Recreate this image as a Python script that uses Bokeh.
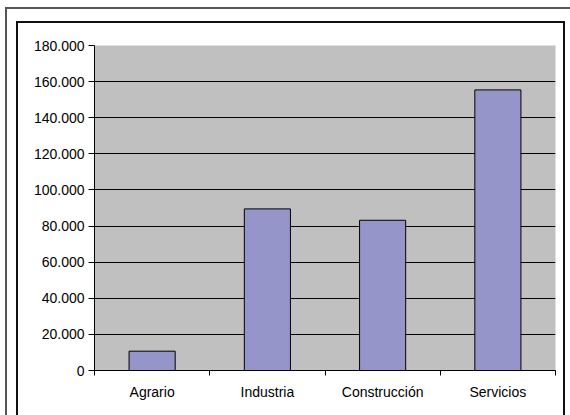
from bokeh.plotting import figure
from bokeh.models import FixedTicker, Range1d, CustomJSTickFormatter, LinearAxis
from bokeh.embed import file_html
from bokeh.resources import INLINE

categories = ["Agrario", "Industria", "Construcción", "Servicios"]
values = [10700, 89500, 83200, 155400]
y_ticks = [0, 20000, 40000, 60000, 80000, 100000, 120000, 140000, 160000, 180000]
y_tick_labels = ["0", "20.000", "40.000", "60.000", "80.000", "100.000",
                 "120.000", "140.000", "160.000", "180.000"]

FONT = "Liberation Sans"

p = figure(width=570, height=415, output_backend="svg", toolbar_location=None,
           x_range=Range1d(0, len(categories)), y_range=Range1d(y_ticks[0], y_ticks[-1]),
           x_axis_location=None, y_axis_location=None)
p.min_border_left = 94
p.min_border_right = 15
p.min_border_top = 45
p.min_border_bottom = 45
p.background_fill_color = "#C0C0C0"
p.border_fill_color = None
p.outline_line_color = None

xs = [i + 0.5 for i in range(len(categories))]
p.vbar(x=xs, top=values, bottom=0, width=0.4, fill_color="#9595C9",
       line_color="black", line_width=1)

yax = LinearAxis(ticker=FixedTicker(ticks=y_ticks, minor_ticks=[]))
yax.major_label_overrides = {t: l for t, l in zip(y_ticks, y_tick_labels)}
yax.major_tick_out = 6
yax.major_tick_in = 0
yax.major_label_standoff = 4
yax.axis_line_color = "black"
yax.major_tick_line_color = "black"
yax.major_label_text_font = FONT
yax.major_label_text_font_size = "14px"
yax.major_label_text_color = "black"
p.add_layout(yax, "left")

xax = LinearAxis(ticker=FixedTicker(ticks=xs, minor_ticks=list(range(len(categories) + 1))))
xax.formatter = CustomJSTickFormatter(args=dict(cats=categories),
                                      code="return cats[Math.floor(tick)] || '';")
xax.major_tick_out = 0
xax.major_tick_in = 0
xax.minor_tick_out = 5
xax.minor_tick_in = 0
xax.minor_tick_line_color = "black"
xax.axis_line_color = "black"
xax.major_label_standoff = 8
xax.major_label_text_font = FONT
xax.major_label_text_font_size = "14px"
xax.major_label_text_color = "black"
p.add_layout(xax, "below")

p.ygrid.ticker = FixedTicker(ticks=y_ticks[1:-1])
p.ygrid.grid_line_color = "black"
p.ygrid.grid_line_width = 1
p.xgrid.grid_line_color = None

# chart-area frames (decoration) drawn as CSS background lines behind the canvas
def seg(color, x, y, w, h):
    return f"linear-gradient({color},{color}) {x}px {y}px / {w}px {h}px no-repeat"

layers = [
    seg("#555555", 5, 7, 565, 2),    # outer top
    seg("#555555", 5, 7, 2, 408),    # outer left
    seg("#111111", 16, 21, 549, 2),  # inner top
    seg("#111111", 16, 21, 2, 394),  # inner left
    seg("#111111", 563, 21, 2, 394), # inner right
]
p.styles = {"background": ", ".join(layers) + ", white"}

open("out.html", "w").write(file_html(p, INLINE))
